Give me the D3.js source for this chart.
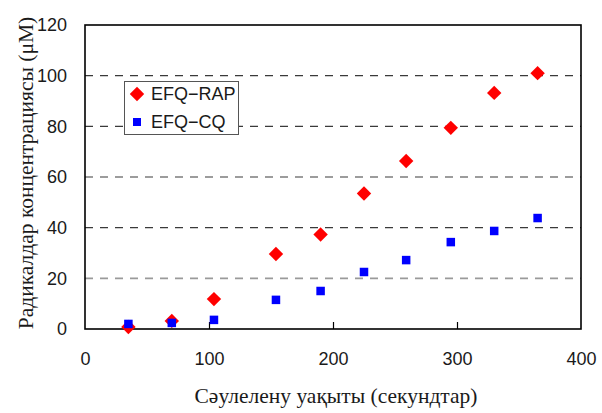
<!DOCTYPE html>
<html>
<head>
<meta charset="utf-8">
<script src="https://cdn.jsdelivr.net/npm/d3@7"></script>
<style>
  html, body { margin: 0; padding: 0; background: #fff; }
  svg { display: block; }
</style>
</head>
<body>
<svg id="chart" width="602" height="413"></svg>
<script>
// Irradiation time (s) and radical concentrations (μM)
const times = [35, 70, 104, 154, 190, 225, 259, 295, 330, 365];
const rapValues = [0.8, 3.2, 11.8, 29.6, 37.3, 53.5, 66.3, 79.4, 93.2, 101.0];
const cqValues = [2.0, 2.4, 3.6, 11.5, 15.0, 22.5, 27.2, 34.3, 38.7, 43.8];
const xTicks = [0, 100, 200, 300, 400];
const yTicks = [0, 20, 40, 60, 80, 100, 120];
const seriesNames = ["EFQ\u2212RAP", "EFQ\u2212CQ"];
const xTitle = "Сәулелену уақыты (секундтар)";
const yTitle = "Радикалдар концентрациясы (μM)";

const svg = d3.select("#chart");
const margin = { left: 85, top: 25, right: 21, bottom: 84 };
const W = 602, H = 413;
const x = d3.scaleLinear().domain([0, 400]).range([margin.left, W - margin.right]);
const y = d3.scaleLinear().domain([0, 120]).range([H - margin.bottom, margin.top]);

const sans = "'Liberation Sans', Arial, sans-serif";
const serif = "'Liberation Serif', 'Times New Roman', serif";

// dashed horizontal gridlines
svg.append("g").selectAll("line")
  .data(yTicks.filter(v => v > 0 && v < 120))
  .join("line")
  .attr("x1", x(0)).attr("x2", x(400))
  .attr("y1", d => y(d)).attr("y2", d => y(d))
  .attr("stroke", d => d === 20 ? "#9a9a9a" : "#3a3a3a")
  .attr("stroke-width", d => d === 20 ? 1.8 : 1.2)
  .attr("stroke-dasharray", "8,7");

// y axis labels
const yAxis = d3.axisLeft(y).tickValues(yTicks).tickSize(0).tickPadding(18);
const gy = svg.append("g").attr("transform", `translate(${x(0)},0)`).call(yAxis);
gy.select(".domain").remove();
gy.selectAll("text").attr("font-family", sans).attr("font-size", 18).attr("fill", "#1a1a1a");

// x axis with inner ticks
const xAxis = d3.axisBottom(x).tickValues(xTicks).tickSize(-7).tickPadding(0);
const gx = svg.append("g").attr("transform", `translate(0,${y(0)})`).call(xAxis);
gx.select(".domain").remove();
gx.selectAll("line").attr("stroke", "#000").attr("stroke-width", 1.2)
  .attr("display", d => (d === 0 || d === 400) ? "none" : null);
gx.selectAll("text").attr("font-family", sans).attr("font-size", 18).attr("fill", "#1a1a1a")
  .attr("y", 0).attr("dy", "36");

// plot frame
svg.append("rect")
  .attr("x", x(0)).attr("y", y(120))
  .attr("width", x(400) - x(0)).attr("height", y(0) - y(120))
  .attr("fill", "none").attr("stroke", "#000").attr("stroke-width", 1.6);

const diamond = d3.symbol().type(d3.symbolSquare).size(104);

// EFQ-RAP diamonds
svg.append("g").selectAll("path")
  .data(times.map((t, i) => [t, rapValues[i]]))
  .join("path")
  .attr("d", diamond)
  .attr("transform", d => `translate(${x(d[0])},${y(d[1])}) rotate(45)`)
  .attr("fill", "#ff0000");

// EFQ-CQ squares
const sq = 8.5;
svg.append("g").selectAll("rect")
  .data(times.map((t, i) => [t, cqValues[i]]))
  .join("rect")
  .attr("x", d => x(d[0]) - sq / 2).attr("y", d => y(d[1]) - sq / 2)
  .attr("width", sq).attr("height", sq)
  .attr("fill", "#0000ff");

// legend
const lg = svg.append("g");
lg.append("rect").attr("x", 124.5).attr("y", 81.5).attr("width", 114).attr("height", 53)
  .attr("fill", "#fff").attr("stroke", "#555").attr("stroke-width", 1);
lg.append("path").attr("d", diamond).attr("transform", "translate(137,94) rotate(45)").attr("fill", "#ff0000");
lg.append("rect").attr("x", 133).attr("y", 118).attr("width", 8).attr("height", 8).attr("fill", "#0000ff");
lg.selectAll("text.lbl").data(seriesNames).join("text")
  .attr("class", "lbl")
  .attr("x", 151).attr("y", (d, i) => 100 + i * 28)
  .attr("font-family", sans).attr("font-size", 18).attr("fill", "#1a1a1a")
  .text(d => d);

// axis titles
svg.append("text")
  .attr("x", 336).attr("y", 403)
  .attr("text-anchor", "middle")
  .attr("font-family", serif).attr("font-size", 21.5).attr("fill", "#1a1a1a")
  .text(xTitle);

svg.append("text")
  .attr("transform", "translate(33,173) rotate(-90)")
  .attr("text-anchor", "middle")
  .attr("font-family", serif).attr("font-size", 21.5).attr("fill", "#1a1a1a")
  .text(yTitle);
</script>
</body>
</html>
